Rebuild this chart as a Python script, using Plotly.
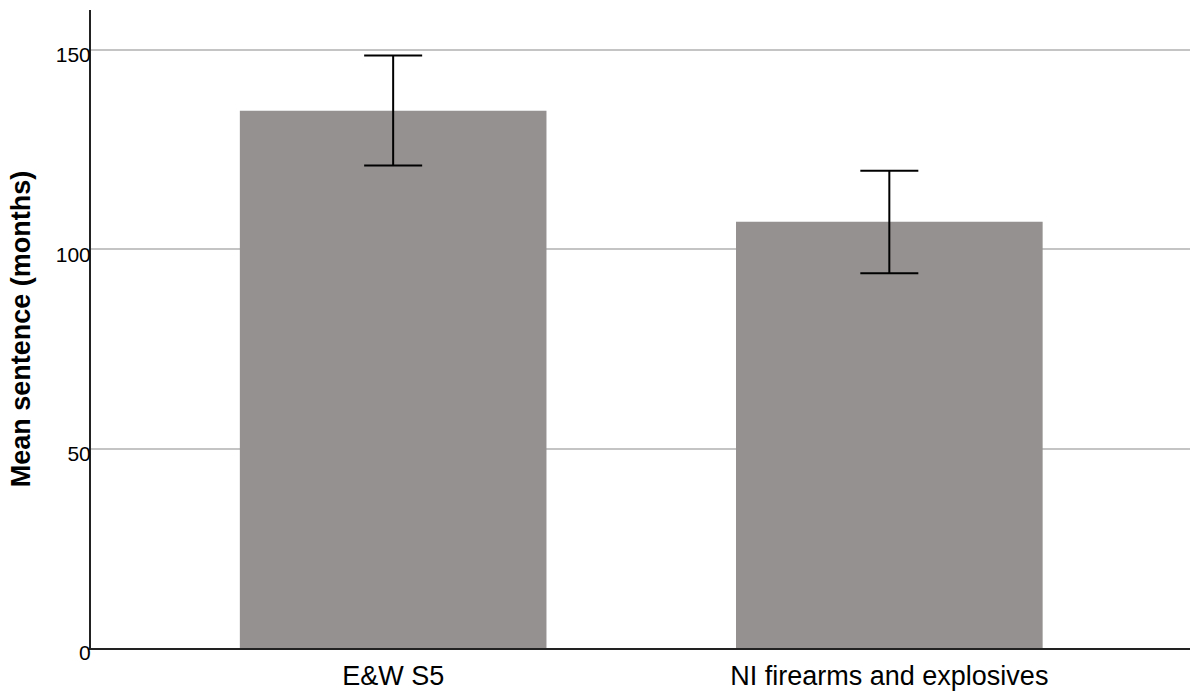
import plotly.graph_objects as go

categories = ["E&W S5", "NI firearms and explosives"]
means = [134.75, 106.9]
err_plus = [13.85, 12.8]
err_minus = [13.75, 12.9]
y_ticks = [0, 50, 100, 150]

fig = go.Figure()
fig.add_trace(go.Bar(
    x=categories,
    y=means,
    width=0.618,
    marker=dict(color="#959190", line=dict(width=0)),
    error_y=dict(type="data", symmetric=False, array=err_plus, arrayminus=err_minus,
                 color="#000000", thickness=2, width=29),
))

fig.update_layout(
    width=1190, height=691,
    margin=dict(l=91, r=0, t=10, b=43),
    plot_bgcolor="white", paper_bgcolor="white",
    showlegend=False,
    font=dict(family="Liberation Sans, Arial, sans-serif", color="#000000"),
)
fig.update_xaxes(
    type="category",
    range=[-0.609, 1.606],
    showline=True, linecolor="#222222", linewidth=2,
    showgrid=False, ticks="",
    tickfont=dict(size=27),
    ticklabelstandoff=3,
)
fig.update_yaxes(
    range=[0, 160],
    tickvals=y_ticks,
    showline=True, linecolor="#222222", linewidth=2,
    showgrid=True, gridcolor="#c4c4c4", gridwidth=1.5,
    zeroline=False, ticks="",
    tickfont=dict(size=21),
    ticklabelstandoff=-6,
    ticklabelshift=5,
    title=dict(text="<b>Mean sentence (months)</b>", font=dict(size=27), standoff=17),
)

fig.write_html("out.html")
